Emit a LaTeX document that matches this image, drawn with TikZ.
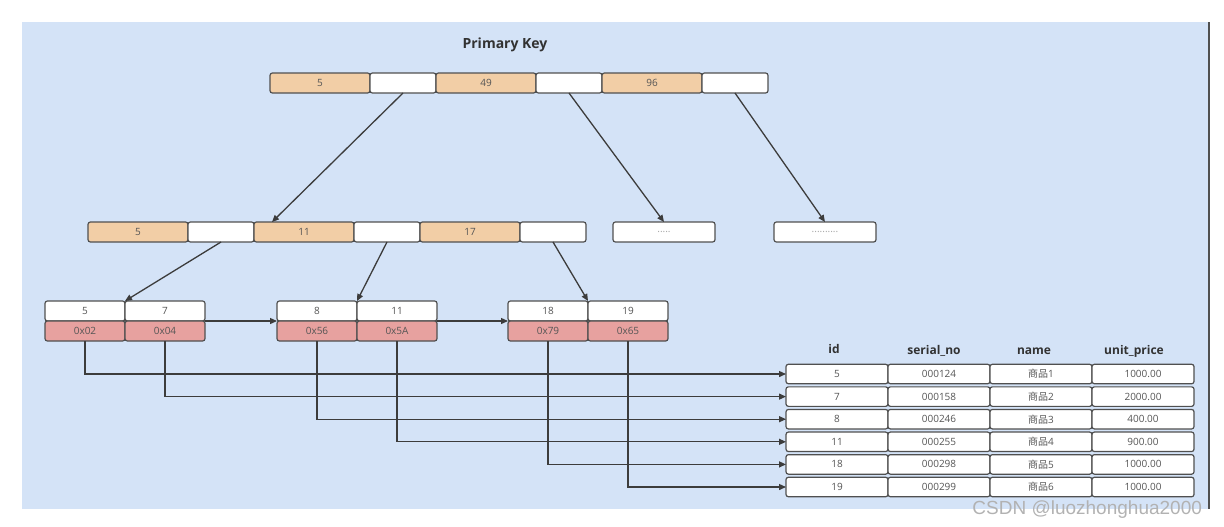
\documentclass[tikz,border=0pt]{standalone}
\usepackage{fontspec}
\setmainfont{Open Sans}
\newfontfamily\cjk{Noto Sans CJK SC}
\newfontfamily\markfont{Liberation Sans}
\usepackage{xcolor}
\usetikzlibrary{calc}
\usetikzlibrary{positioning,arrows.meta}
\definecolor{bgblue}{RGB}{212,227,247}
\definecolor{keyfill}{RGB}{242,206,166}
\definecolor{addrfill}{RGB}{231,161,159}
\definecolor{boxline}{RGB}{80,80,80}
\definecolor{arrowline}{RGB}{60,60,60}
\definecolor{celltext}{RGB}{85,85,85}
\definecolor{titletext}{RGB}{50,50,50}

\begin{document}
\begin{tikzpicture}[
  x=0.5pt, y=-0.5pt,
  >={Triangle[length=3.5pt,width=3pt]},
  node distance=0pt,
  cell/.style={draw=boxline, line width=0.6pt, rounded corners=1.2pt, inner sep=0pt, outer sep=0pt,
    minimum height=10pt, font=\fontsize{5}{6}\selectfont, text=celltext},
  key/.style={cell, fill=keyfill, minimum width=50pt},
  ptr/.style={cell, fill=white, minimum width=33pt},
  more/.style={cell, fill=white, minimum width=51pt, text=gray!70},
  leafkey/.style={cell, fill=white, minimum width=40pt},
  leafaddr/.style={cell, fill=addrfill, minimum width=40pt},
  rec/.style={cell, fill=white, minimum width=51pt, minimum height=9.75pt},
  head/.style={font=\bfseries\fontsize{6}{7}\selectfont, text=titletext, anchor=base},
  arrow/.style={->, line width=0.65pt, draw=arrowline}
]
\useasboundingbox (0,0) rectangle (1224,526);

% ------------------------------------------------------------
% Background panel
% ------------------------------------------------------------
\fill[bgblue] (22,22) rectangle (1208,509);
\draw[line width=1.1pt, draw=boxline] (1209,22) -- (1209,509);

\node[font=\bfseries\fontsize{7}{8}\selectfont, text=titletext] (title) at (505,45) {Primary Key};

% ------------------------------------------------------------
% Root page
% ------------------------------------------------------------
\node[key] (t5) at (320,83) {5};
\node[ptr, right=of t5]   (tp1) {};
\node[key, right=of tp1]  (t49) {49};
\node[ptr, right=of t49]  (tp2) {};
\node[key, right=of tp2]  (t96) {96};
\node[ptr, right=of t96]  (tp3) {};

% ------------------------------------------------------------
% Inner pages
% ------------------------------------------------------------
\node[key] (m5) at (138,232) {5};
\node[ptr, right=of m5]   (mp1) {};
\node[key, right=of mp1]  (m11) {11};
\node[ptr, right=of m11]  (mp2) {};
\node[key, right=of mp2]  (m17) {17};
\node[ptr, right=of m17]  (mp3) {};

\node[more] (dots1) at (664,232) {.....};
\node[more] (dots2) at (825,232) {..........};

% ------------------------------------------------------------
% Leaf pages (keys + row addresses)
% ------------------------------------------------------------
\node[leafkey] (l5) at (85,311) {5};
\node[leafkey, right=of l5]   (l7) {7};
\node[leafaddr, below=of l5]  (a02) {0x02};
\node[leafaddr, below=of l7]  (a04) {0x04};

\node[leafkey] (l8) at (317,311) {8};
\node[leafkey, right=of l8]   (l11) {11};
\node[leafaddr, below=of l8]  (a56) {0x56};
\node[leafaddr, below=of l11] (a5A) {0x5A};

\node[leafkey] (l18) at (548,311) {18};
\node[leafkey, right=of l18]  (l19) {19};
\node[leafaddr, below=of l18] (a79) {0x79};
\node[leafaddr, below=of l19] (a65) {0x65};

% ------------------------------------------------------------
% Data rows
% ------------------------------------------------------------
\node[head] (hid)    at (834,353)  {id};
\node[head] (hno)    at (934,354)  {serial\_no};
\node[head] (hname)  at (1034,354) {name};
\node[head] (hprice) at (1134,354) {unit\_price};

\node[rec] (r1id) at (837,374) {5};
\node[rec, right=of r1id] (r1no) {000124};
\node[rec, right=of r1no] (r1nm) {{\cjk 商品}1};
\node[rec, right=of r1nm] (r1pr) {1000.00};

\node[rec] (r2id) at (837,396.6) {7};
\node[rec, right=of r2id] (r2no) {000158};
\node[rec, right=of r2no] (r2nm) {{\cjk 商品}2};
\node[rec, right=of r2nm] (r2pr) {2000.00};

\node[rec] (r3id) at (837,419.2) {8};
\node[rec, right=of r3id] (r3no) {000246};
\node[rec, right=of r3no] (r3nm) {{\cjk 商品}3};
\node[rec, right=of r3nm] (r3pr) {400.00};

\node[rec] (r4id) at (837,441.8) {11};
\node[rec, right=of r4id] (r4no) {000255};
\node[rec, right=of r4no] (r4nm) {{\cjk 商品}4};
\node[rec, right=of r4nm] (r4pr) {900.00};

\node[rec] (r5id) at (837,464.4) {18};
\node[rec, right=of r5id] (r5no) {000298};
\node[rec, right=of r5no] (r5nm) {{\cjk 商品}5};
\node[rec, right=of r5nm] (r5pr) {1000.00};

\node[rec] (r6id) at (837,487) {19};
\node[rec, right=of r6id] (r6no) {000299};
\node[rec, right=of r6no] (r6nm) {{\cjk 商品}6};
\node[rec, right=of r6nm] (r6pr) {1000.00};

% tree pointers
\draw[arrow] (tp1.south) -- ($(m11.north west)!0.18!(m11.north east)$);
\draw[arrow] (tp2.south) -- (dots1.north);
\draw[arrow] (tp3.south) -- (dots2.north);
\draw[arrow] (mp1.south) -- (l5.north east);
\draw[arrow] (mp2.south) -- (l8.north east);
\draw[arrow] (mp3.south) -- (l18.north east);

% leaf chain
\draw[arrow] (l7.south east) -- (l8.south west);
\draw[arrow] (l11.south east) -- (l18.south west);

% addresses to rows
\draw[arrow] (a02.south) |- (r1id.west);
\draw[arrow] (a04.south) |- (r2id.west);
\draw[arrow] (a56.south) |- (r3id.west);
\draw[arrow] (a5A.south) |- (r4id.west);
\draw[arrow] (a79.south) |- (r5id.west);
\draw[arrow] (a65.south) |- (r6id.west);

\node[font=\markfont\fontsize{9.5}{10}\selectfont, text=gray!60, anchor=base east] (mark) at (1209,514)
  {CSDN @luozhonghua2000};

\end{tikzpicture}
\end{document}
